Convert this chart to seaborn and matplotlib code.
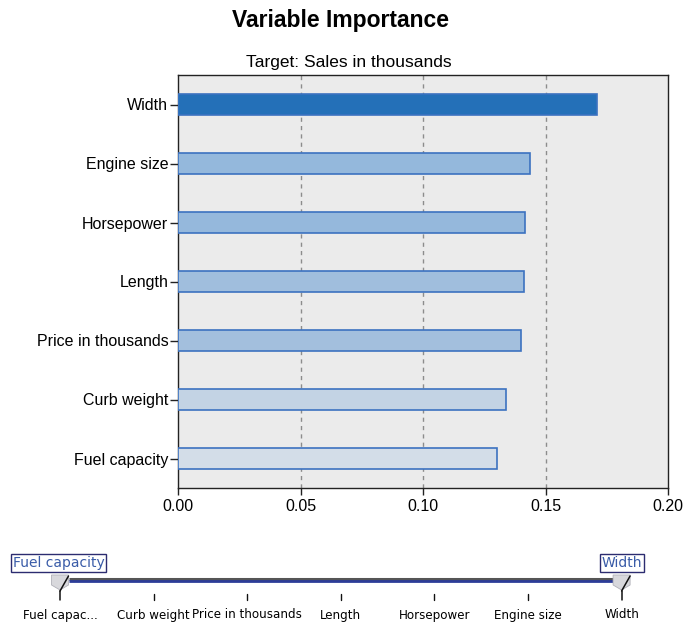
import numpy as np
import pandas as pd
import matplotlib
matplotlib.use("Agg")
import matplotlib.pyplot as plt
import seaborn as sns

# data
variables = ["Width", "Engine size", "Horsepower", "Length",
             "Price in thousands", "Curb weight", "Fuel capacity"]
importance = [0.171, 0.1437, 0.1416, 0.1412, 0.1400, 0.1339, 0.1303]
xticks = [0.00, 0.05, 0.10, 0.15, 0.20]
slider_labels = ["Fuel capac...", "Curb weight", "Price in thousands", "Length",
                 "Horsepower", "Engine size", "Width"]

bar_colors = ["#2470b8", "#94b8dc", "#95b8dc", "#a0bedd",
              "#a3bfdd", "#c3d3e4", "#d3dde8"]

sns.set_style("white")
plt.rcParams["font.family"] = ["Liberation Sans", "DejaVu Sans"]
plt.rcParams["text.color"] = "black"
plt.rcParams["xtick.color"] = "black"
plt.rcParams["ytick.color"] = "black"

df = pd.DataFrame({"Variable": variables, "Importance": importance})

fig = plt.figure(figsize=(6.86, 6.23), dpi=100)
ax = fig.add_axes([178 / 686, 1 - 488 / 623, 490 / 686, 413 / 623])
ax.set_facecolor("#ebebeb")

sns.barplot(data=df, x="Importance", y="Variable", hue="Variable",
            palette=dict(zip(variables, bar_colors)), order=variables,
            orient="h", width=0.37, saturation=1, edgecolor="#3c72c0",
            linewidth=1.2, legend=False, ax=ax, zorder=3)

ax.set_xlim(0, 0.2)
ax.set_xticks(xticks)
ax.set_xticklabels([f"{t:.2f}" for t in xticks])
for t in xticks[1:-1]:
    ax.axvline(t, color="#8c8c8c", linestyle=(0, (3, 3)), linewidth=1, zorder=2)
ax.set_xlabel("")
ax.set_ylabel("")
for s in ax.spines.values():
    s.set_color("#222222")
    s.set_linewidth(1.0)
ax.tick_params(axis="both", which="both", direction="out", length=6,
               width=1, color="#222222", labelsize=11.5, pad=1,
               left=True, bottom=True)
ax.tick_params(axis="x", pad=3, length=5)

fig.text(0.496, 1 - 20 / 623, "Variable Importance", ha="center", va="center",
         fontsize=16.5, fontweight="bold")
fig.text(0.508, 1 - 62 / 623, "Target: Sales in thousands", ha="center",
         va="center", fontsize=12.5)

# slider widget underneath
sx = fig.add_axes([0, 0, 1, 83 / 623])
sx.set_axis_off()
step = 93.6
sx.set_xlim(-60 / step, (686 - 60) / step)
sx.set_ylim(623, 540)
n = len(slider_labels)
idx = np.arange(n)
hw = 8.5 / step

sx.plot([0 + hw, n - 1 - hw], [578.5, 578.5], color="#555555", lw=2.2,
        solid_capstyle="butt")
sx.plot([0 + hw, n - 1 - hw], [580.5, 580.5], color="#2c3c98", lw=2.0,
        solid_capstyle="butt")
for i in [0, n - 1]:
    px = [i - hw, i + hw, i + hw, i, i - hw]
    py = [575, 575, 585, 590, 585]
    sx.fill(px, py, color="#d8d8dc", edgecolor="#b0b0b8", lw=0.6, zorder=3)
    sx.plot([i, i + hw], [591, 576], color="#111111", lw=1.1, zorder=4)
    sx.plot([i, i], [591, 600], color="#111111", lw=1.1)
for i in idx[1:-1]:
    sx.plot([i, i], [594, 600], color="#111111", lw=1.0)
for i, lab in zip(idx, slider_labels):
    sx.text(i, 615, lab, ha="center", va="center", fontsize=8.6,
            family="DejaVu Sans")

box = dict(boxstyle="square,pad=0.12", facecolor="white",
           edgecolor="#2c2c70", linewidth=1.0)
sx.text(-47 / step, 563, variables[-1], ha="left",
        va="center", fontsize=10, color="#3a5ca8", family="DejaVu Sans",
        bbox=box)
sx.text(n - 1, 563, variables[0], ha="center", va="center", fontsize=10,
        color="#3a5ca8", family="DejaVu Sans", bbox=box)

fig.savefig("out.png", dpi=100, facecolor="white")
